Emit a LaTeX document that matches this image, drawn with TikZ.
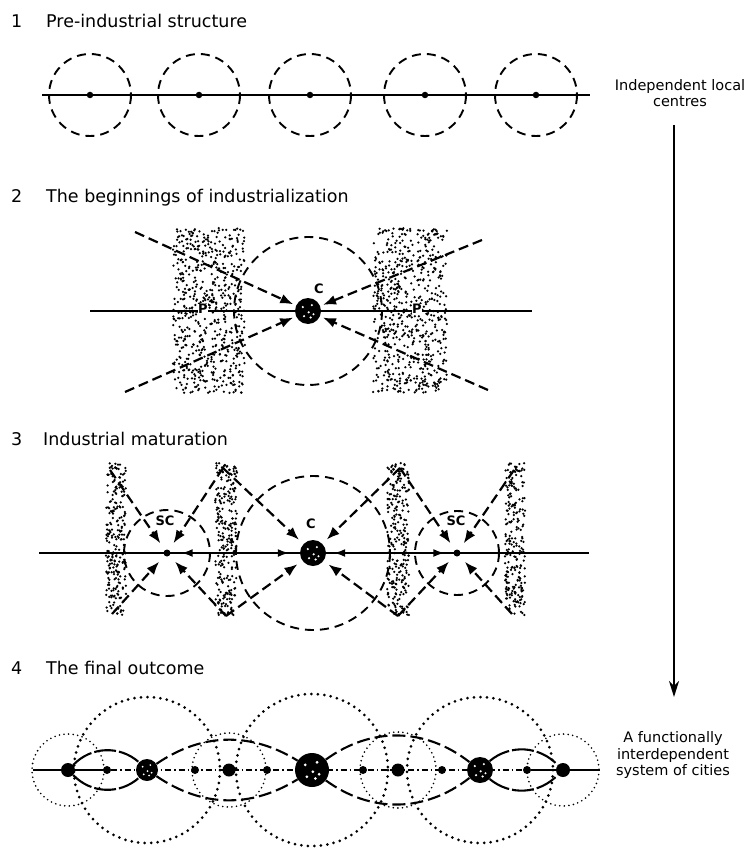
\documentclass[tikz,border=0pt]{standalone}
\usepackage{fontspec}
\setmainfont{DejaVu Sans}
\usetikzlibrary{arrows.meta,backgrounds}
\newcommand\speck[3]{%
  \foreach \dx/\dy in {-0.4/-0.3,0.3/-0.45,0.05/0.1,-0.3/0.4,0.42/0.25,0.2/0.5}{%
    \fill[white] ({#1+#3*\dx},{#2+#3*\dy}) circle ({0.09*#3});}}
\newcommand\stipple[5]{%
  \foreach \k in {1,...,#5}{%
    \fill ({#1+#3*rnd},{#2+#4*rnd}) circle (1.25pt);}}
\begin{document}
\begin{tikzpicture}[x=1pt,y=-1pt,
  ttl/.style={anchor=base west,inner sep=0pt,font=\fontsize{17.5}{20}\selectfont},
  side/.style={align=center,inner sep=0pt,font=\fontsize{14.5}{16.5}\selectfont},
  lab/.style={inner sep=0.6pt,font=\bfseries\fontsize{13}{14}\selectfont},
  zone/.style={dash pattern=on 9pt off 6pt,line width=1.9pt},
  flow/.style={dash pattern=on 10pt off 5pt,line width=2.2pt,-{Latex[length=13pt,width=10pt]}},
  axarrow/.style={line width=1.8pt,-{Latex[length=11pt,width=8pt]}},
  town/.style={circle,fill=black,inner sep=0pt,minimum size=6.5pt},
  city/.style={circle,fill=black,inner sep=0pt,minimum size=#1},
  bigdots/.style={line width=3pt,dash pattern=on 0pt off 6.5pt,line cap=round},
  finedots/.style={line width=1.8pt,dash pattern=on 0pt off 4.6pt,line cap=round},
  lens/.style={line width=2.1pt,dash pattern=on 13pt off 5pt},
  lenssolid/.style={line width=2.1pt,dash pattern=on 22pt off 3pt},
  dashdot/.style={line width=1.8pt,dash pattern=on 6pt off 3pt on 1.5pt off 3pt}]
\pgfmathsetseed{7}
\useasboundingbox (0,0) rectangle (751,848);

% ---------- titles ----------
\node[ttl] (n1t) at (11,28) {1};
\node[ttl] (t1) at (46,28) {Pre-industrial structure};
\node[ttl] (n2t) at (11,202) {2};
\node[ttl] (t2) at (46,202) {The beginnings of industrialization};
\node[ttl] (n3t) at (11,445) {3};
\node[ttl] (t3) at (43,445) {Industrial maturation};
\node[ttl] (n4t) at (11,674) {4};
\node[ttl] (t4) at (46,674) {The final outcome};

% ---------- right-hand labels and arrow ----------
\node[side] (labA) at (680,93) {Independent local\\centres};
\node[side] (labB) at (673,755) {A functionally\\interdependent\\system of cities};
\coordinate (arS) at (674,125);
\coordinate (arE) at (674,697);
\draw[line width=2pt,-{Stealth[length=16pt,width=10pt,inset=5pt]}] (arS) -- (arE);

% ---------- panel 1 ----------
\coordinate (p1L) at (42,95);
\coordinate (p1R) at (590,95);
\draw[line width=2pt] (p1L) -- (p1R);
\foreach \cx/\nm in {90/a,199/b,310/c,425/d,536/e}{%
  \node[town] (p1\nm) at (\cx,95) {};
  \draw[zone] (p1\nm) circle (41);
}

% ---------- panel 2 ----------
\node[city=26pt] (C2) at (308,311) {};
\speck{308}{311}{13}
\begin{scope}[on background layer]
  \stipple{173}{228}{72}{165}{620}
  \stipple{373}{228}{74}{165}{620}
  \coordinate (h2L) at (90,311);
  \coordinate (h2R) at (532,311);
  \draw[line width=1.6pt] (h2L) -- (h2R);
\end{scope}
\draw[zone] (C2) circle (74);
\node[lab,fill=white] (P2L) at (203,309) {P};
\node[lab,fill=white] (P2R) at (417,309) {P};
\node[lab] (C2lab) at (319,289) {C};
\coordinate (d2a) at (135,232);
\coordinate (d2b) at (482,240);
\coordinate (d2c) at (125,392);
\coordinate (d2d) at (488,390);
\foreach \p in {d2a,d2b,d2c,d2d}{\draw[flow,shorten >=3pt] (\p) -- (C2);}

% ---------- panel 3 ----------
\node[city=26pt] (C3) at (313,553) {};
\speck{313}{553}{13}
\node[town,minimum size=7pt] (SCL) at (167,553) {};
\node[town,minimum size=7pt] (SCR) at (457,553) {};
\begin{scope}[on background layer]
  \stipple{106}{463}{20}{152}{240}
  \stipple{215}{463}{22}{152}{260}
  \stipple{387}{463}{22}{152}{260}
  \stipple{505}{463}{20}{152}{240}
  \coordinate (h3L) at (39,553);
  \coordinate (h3R) at (589,553);
  \draw[line width=1.8pt] (h3L) -- (h3R);
\end{scope}
\draw[zone] (C3) circle (77);
\draw[zone] (SCL) circle (43);
\draw[zone] (SCR) circle (42);
\node[lab] (C3lab) at (311,524) {C};
\node[lab] (SCLlab) at (165,521) {SC};
\node[lab] (SCRlab) at (456,521) {SC};
\coordinate (u1) at (110,470);
\coordinate (u2) at (223,468);
\coordinate (u3) at (400,468);
\coordinate (u4) at (514,470);
\coordinate (w1) at (112,614);
\coordinate (w2) at (226,616);
\coordinate (w3) at (398,616);
\coordinate (w4) at (512,614);
\foreach \p in {u1,u2,w1,w2}{\draw[flow,shorten >=8pt] (\p) -- (SCL);}
\foreach \p in {u2,u3,w2,w3}{\draw[flow,shorten >=6pt] (\p) -- (C3);}
\foreach \p in {u3,u4,w3,w4}{\draw[flow,shorten >=8pt] (\p) -- (SCR);}
\draw[axarrow,shorten >=11pt] (C3) -- (SCL);
\draw[axarrow,shorten >=11pt] (SCL) -- (C3);
\draw[axarrow,shorten >=8pt] (SCR) -- (C3);
\draw[axarrow,shorten >=9pt] (C3) -- (SCR);

% ---------- panel 4 ----------
\node[city=14pt] (m1) at (68,770) {};
\node[city=8pt] (m2) at (107,770) {};
\node[city=22pt] (m3) at (147,770) {};
\node[city=8pt] (m4) at (195,770) {};
\node[city=13pt] (m5) at (229,770) {};
\node[city=8pt] (m6) at (267,770) {};
\node[city=34pt] (m7) at (312,770) {};
\node[city=8pt] (m8) at (363,770) {};
\node[city=13pt] (m9) at (398,770) {};
\node[city=8pt] (m10) at (442,770) {};
\node[city=26pt] (m11) at (480,770) {};
\node[city=8pt] (m12) at (527,770) {};
\node[city=14pt] (m13) at (563,770) {};
\speck{147}{770}{11}
\speck{312}{770}{17}
\speck{480}{770}{13}
\begin{scope}[on background layer]
  \coordinate (a4L) at (33,770);
  \coordinate (a4R) at (600,770);
  \draw[line width=1.8pt] (a4L) -- (m2);
  \draw[dashdot] (m2) -- (m12);
  \draw[line width=1.8pt] (m12) -- (a4R);
\end{scope}
\draw[finedots] (m1) circle (36);
\draw[finedots] (m5) circle (37);
\draw[finedots] (m9) circle (38);
\draw[finedots] (m13) circle (36);
\draw[bigdots] (m3) circle (73);
\draw[bigdots] (m7) circle (76);
\draw[bigdots] (m11) circle (73);
\draw[lenssolid] (m1) to[bend left=44] (m3);
\draw[lenssolid] (m1) to[bend right=44] (m3);
\draw[lens] (m3) to[bend left=33] (m7);
\draw[lens] (m3) to[bend right=33] (m7);
\draw[lens] (m7) to[bend left=37] (m11);
\draw[lens] (m7) to[bend right=37] (m11);
\draw[lenssolid] (m11) to[bend left=43] (m13);
\draw[lenssolid] (m11) to[bend right=43] (m13);
\end{tikzpicture}
\end{document}
